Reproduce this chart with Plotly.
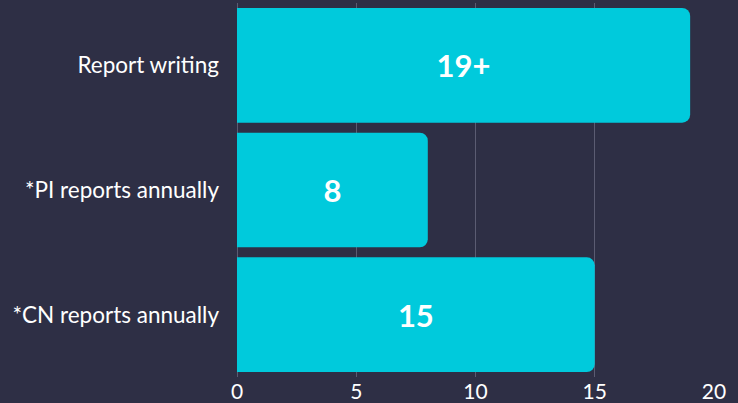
import plotly.graph_objects as go

categories = ["Report writing", "*PI reports annually", "*CN reports annually"]
values = [19, 8, 15]
bar_labels = ["19+", "8", "15"]
tick_vals = [0, 5, 10, 15, 20]

BG = "#2e2f45"
BAR = "#00cadc"
GRID = "#5b5c72"

fig = go.Figure(go.Bar(
    y=categories,
    x=values,
    orientation="h",
    text=bar_labels,
    textposition="inside",
    insidetextanchor="middle",
    textfont=dict(family="Lato", size=31, color="white", weight="bold"),
    marker=dict(color=BAR, line=dict(width=0), cornerradius=8),
    hoverinfo="skip",
))

fig.update_layout(
    width=738, height=403, autosize=False,
    paper_bgcolor=BG, plot_bgcolor=BG,
    margin=dict(l=237, r=24, t=3, b=26, pad=0, autoexpand=False),
    bargap=0.08,
    showlegend=False,
    font=dict(family="Lato", color="white"),
)
fig.update_xaxes(
    range=[0, 20], tickvals=tick_vals, ticktext=[str(t) for t in tick_vals],
    showgrid=True, gridcolor=GRID, gridwidth=1,
    zeroline=True, zerolinecolor=GRID, zerolinewidth=1, showline=False,
    tickfont=dict(family="Lato", size=21, color="white"),
    ticks="", ticklabelstandoff=0, fixedrange=True, automargin=False,
)
fig.update_yaxes(
    autorange="reversed", showgrid=False, zeroline=False, showline=False,
    tickfont=dict(family="Lato", size=22.5, color="white"),
    ticks="", ticklabelstandoff=17, fixedrange=True, automargin=False,
)

fig.write_html(
    "out.html",
    config={"displayModeBar": False},
    post_script="document.body.style.margin='0';document.body.style.background='" + BG + "';",
)
